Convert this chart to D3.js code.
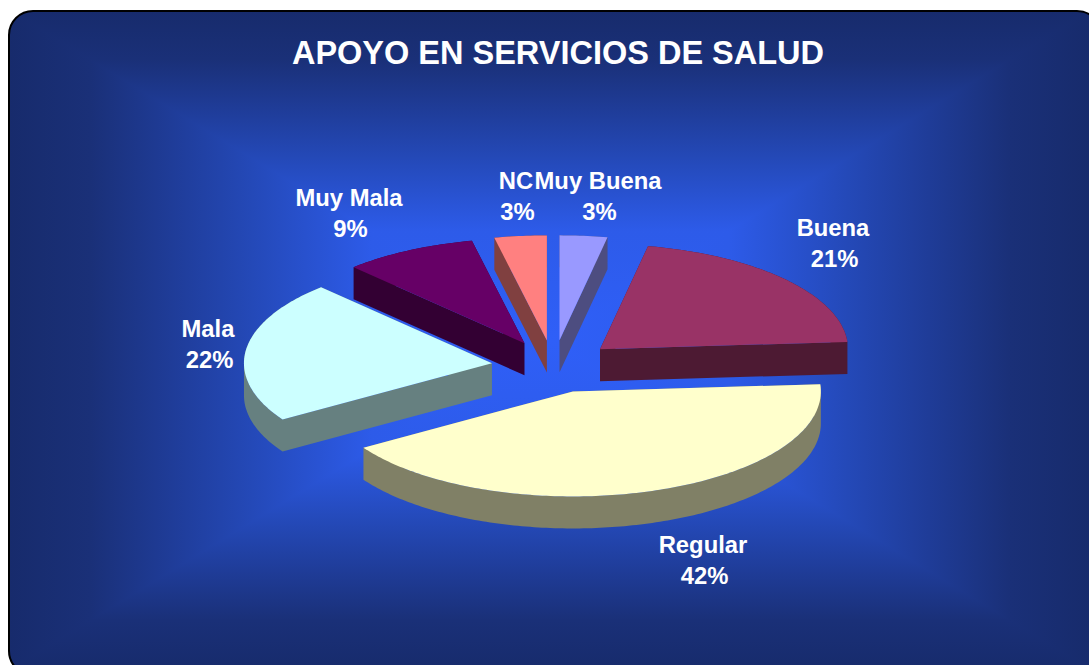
<!DOCTYPE html>
<html>
<head>
<meta charset="utf-8">
<script src="https://cdn.jsdelivr.net/npm/d3@7/dist/d3.min.js"></script>
<style>
  html, body { margin: 0; padding: 0; background: #fff; overflow: hidden; }
  svg { display: block; }
  text { font-family: "Liberation Sans", Arial, sans-serif; font-weight: bold; fill: #fff; }
</style>
</head>
<body>
<script>
const categories = ['Muy Buena', 'Buena', 'Regular', 'Mala', 'Muy Mala', 'NC'];
const values = [3.1, 20.8, 42.1, 21.9, 8.7, 3.4];
const topColors = ['#9999ff', '#993366', '#ffffcc', '#ccffff', '#660066', '#ff8080'];
const sideColors = ['#4d4d80', '#4d1a33', '#808066', '#668080', '#330033', '#804040'];

// label centre and first baseline, same order as categories
const labelX = [598, 833, 703, 208, 349, 516];
const labelY = [189, 236, 553, 337, 206, 189];

const width = 1089, height = 665;
const cx = 553.5, cy = 366.5, rx = 248, ry = 105, depth = 32, explode = 0.25;

// back to front
const drawOrder = [4, 5, 0, 1, 3, 2];

const svg = d3.select('body').append('svg')
  .attr('width', width)
  .attr('height', height);

const defs = svg.append('defs');

// the panel runs off the right and bottom of the picture
const panel = { x: 9, y: 11, w: 1092, h: 664, r: 24 };
const gx = 550, gy = 340;

defs.append('clipPath').attr('id', 'panelClip')
  .append('rect')
  .attr('x', panel.x).attr('y', panel.y)
  .attr('width', panel.w).attr('height', panel.h)
  .attr('rx', panel.r);

const stops = [
  [0, '#2f5ff8'], [0.33, '#2d5be9'], [0.55, '#2449b8'],
  [0.7, '#1f3c98'], [0.85, '#1a3078'], [1, '#172b6c']
];

// rectangular path gradient, four triangles meeting at the middle
const x0 = 9, x1 = 1091, y0 = 10, y1 = 670;
const sides = [
  { id: 'gN', pts: [[x0, y0], [x1, y0], [gx, gy]], to: [gx, y0] },
  { id: 'gS', pts: [[x0, y1], [x1, y1], [gx, gy]], to: [gx, y1] },
  { id: 'gW', pts: [[x0, y0], [x0, y1], [gx, gy]], to: [x0, gy] },
  { id: 'gE', pts: [[x1, y0], [x1, y1], [gx, gy]], to: [x1, gy] }
];

sides.forEach(s => {
  const g = defs.append('linearGradient')
    .attr('id', s.id)
    .attr('gradientUnits', 'userSpaceOnUse')
    .attr('x1', gx).attr('y1', gy)
    .attr('x2', s.to[0]).attr('y2', s.to[1]);
  stops.forEach(st => g.append('stop').attr('offset', st[0]).attr('stop-color', st[1]));
});

const bg = svg.append('g').attr('clip-path', 'url(#panelClip)');
bg.selectAll('polygon')
  .data(sides)
  .join('polygon')
  .attr('points', s => s.pts.join(' '))
  .attr('fill', s => `url(#${s.id})`)
  .attr('shape-rendering', 'crispEdges');

svg.append('rect')
  .attr('x', panel.x).attr('y', panel.y)
  .attr('width', panel.w).attr('height', panel.h)
  .attr('rx', panel.r)
  .attr('fill', 'none')
  .attr('stroke', '#000')
  .attr('stroke-width', 2);

svg.append('text')
  .attr('x', 558)
  .attr('y', 64)
  .attr('text-anchor', 'middle')
  .style('font-size', '32.5px')
  .text('APOYO EN SERVICIOS DE SALUD');

const pie = d3.pie().sort(null).value(d => d.value);
const arcs = pie(categories.map((name, i) => ({ name, value: values[i], i })));

function project(a, r) {
  return [r * rx * Math.sin(a), -r * ry * Math.cos(a)];
}

// outline of a slice on the top face, apex first
function outline(d) {
  const mid = (d.startAngle + d.endAngle) / 2;
  const off = project(mid, explode);
  const apex = [cx + off[0], cy + off[1]];
  const steps = d3.range(0, Math.max(2, Math.ceil((d.endAngle - d.startAngle) * 60)) + 1);
  const angle = d3.scaleLinear().domain([0, steps.length - 1]).range([d.startAngle, d.endAngle]);
  const rim = steps.map(s => {
    const p = project(angle(s), 1);
    return [apex[0] + p[0], apex[1] + p[1]];
  });
  return [apex, ...rim];
}

// each edge pushed down by depth, all quads wound the same way so they union
function sidePath(pts) {
  const p = d3.path();
  pts.forEach((a, i) => {
    let q = a, b = pts[(i + 1) % pts.length];
    if (b[0] < q[0]) [q, b] = [b, q];
    p.moveTo(q[0], q[1]);
    p.lineTo(b[0], b[1]);
    p.lineTo(b[0], b[1] + depth);
    p.lineTo(q[0], q[1] + depth);
    p.closePath();
  });
  return p.toString();
}

const line = d3.line();
const slices = svg.append('g')
  .selectAll('g')
  .data(drawOrder.map(i => arcs[i]))
  .join('g');

slices.append('path')
  .attr('d', d => sidePath(outline(d)))
  .attr('fill', d => sideColors[d.data.i]);

slices.append('path')
  .attr('d', d => line(outline(d)) + 'Z')
  .attr('fill', d => topColors[d.data.i]);

const labels = svg.append('g')
  .selectAll('text')
  .data(arcs)
  .join('text')
  .attr('text-anchor', 'middle')
  .style('font-size', '23.8px');

labels.append('tspan')
  .attr('x', d => labelX[d.data.i])
  .attr('y', d => labelY[d.data.i])
  .text(d => d.data.name);

labels.append('tspan')
  .attr('x', d => labelX[d.data.i] + 1.5)
  .attr('y', d => labelY[d.data.i] + 31)
  .text(d => Math.round(d.data.value) + '%');
</script>
</body>
</html>
